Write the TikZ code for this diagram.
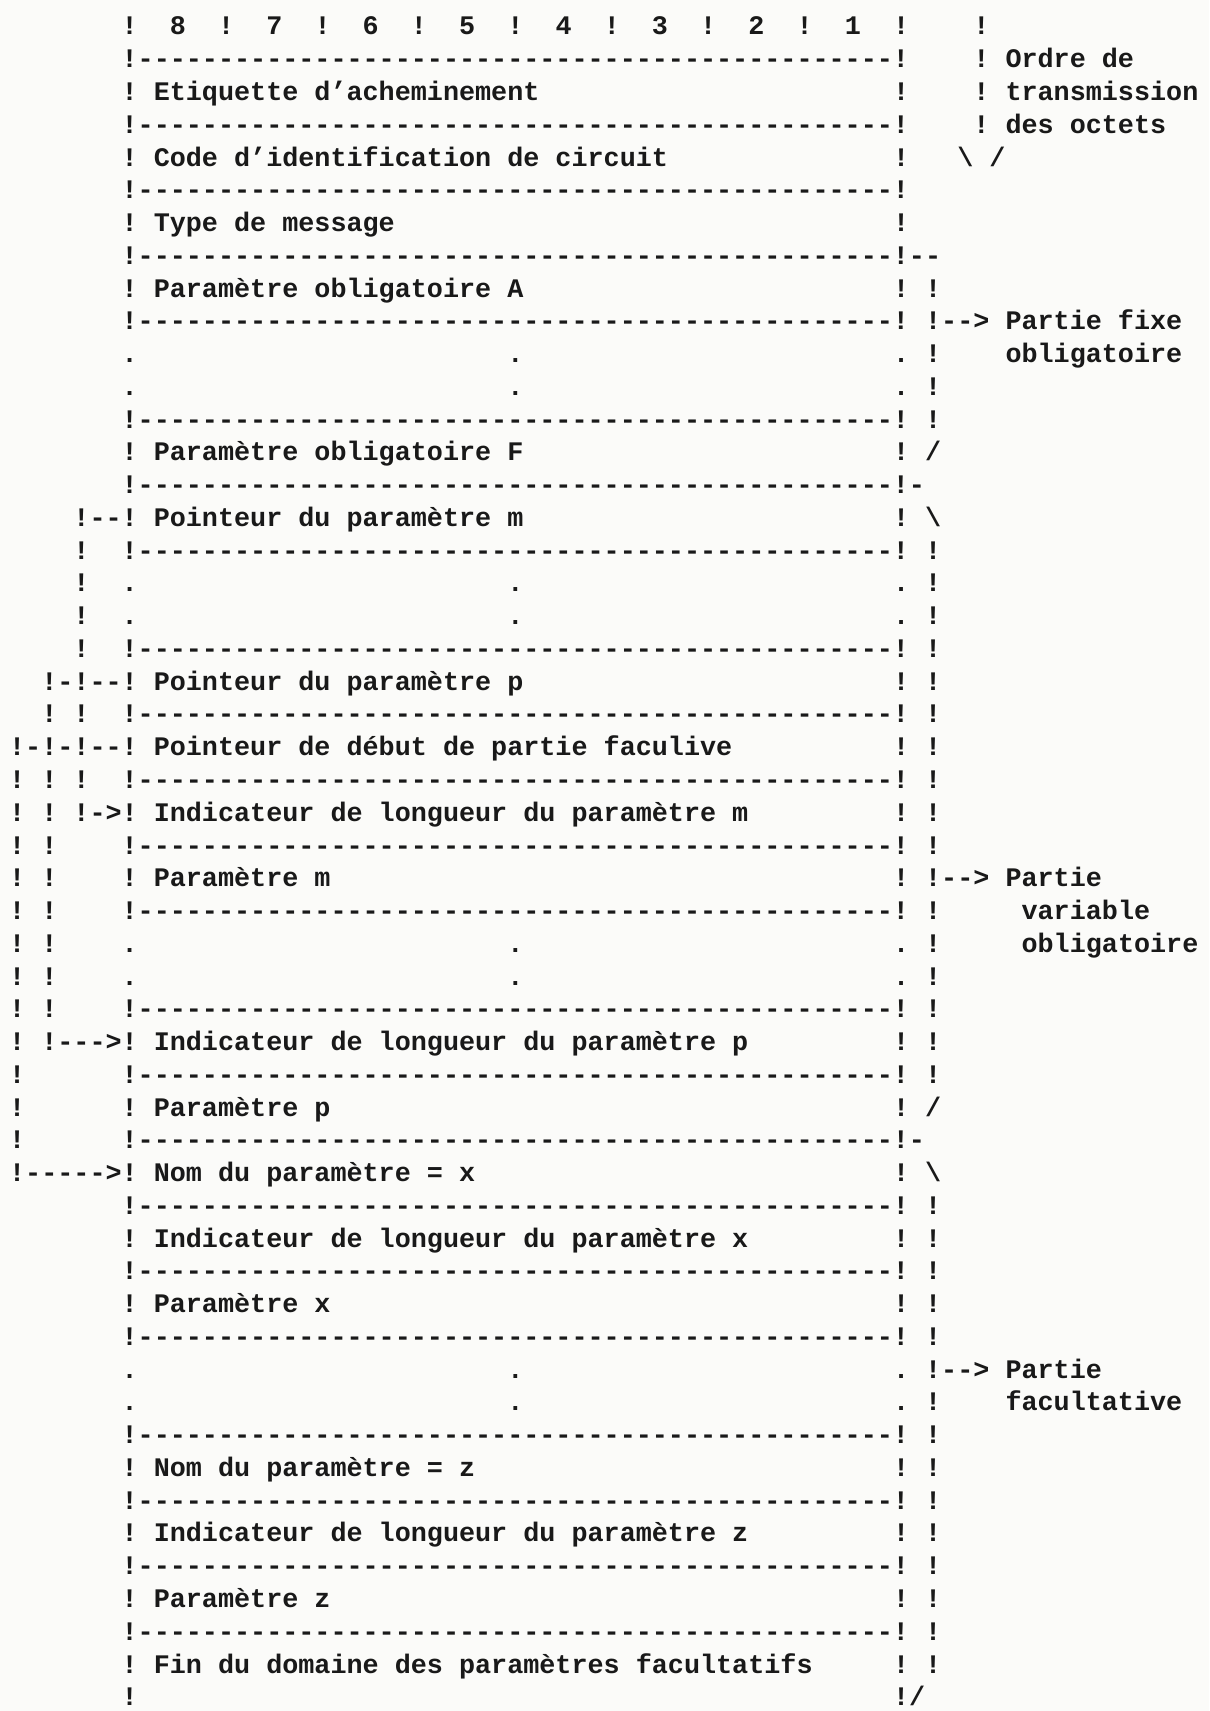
\documentclass[tikz,border=0pt]{standalone}
\usepackage{fontspec}
\setmonofont{Liberation Mono}
\definecolor{paper}{rgb}{0.985,0.985,0.975}
\definecolor{ink}{rgb}{0.1,0.1,0.1}
\tikzset{seg/.style={anchor=base west,inner sep=0pt,outer sep=0pt,text=ink,
  font=\ttfamily\bfseries\fontsize{13.39pt}{16pt}\selectfont}}
% row, column, text
\newcommand\tw[3]{\node[seg] (n#1x#2) at ({9.165+#2*16.07},{35+(#1-1)*32.76}) {#3};}
\def\dsh{----------}
\def\DL{!\dsh\dsh\dsh\dsh-------!}
\begin{document}
\begin{tikzpicture}[x=0.5pt,y=-0.5pt]
\fill[paper] (0,0) rectangle (1209,1711);
\useasboundingbox (0,0) rectangle (1209,1711);
% header
\tw{1}{7}{!}\tw{1}{10}{8}\tw{1}{13}{!}\tw{1}{16}{7}\tw{1}{19}{!}\tw{1}{22}{6}
\tw{1}{25}{!}\tw{1}{28}{5}\tw{1}{31}{!}\tw{1}{34}{4}\tw{1}{37}{!}\tw{1}{40}{3}
\tw{1}{43}{!}\tw{1}{46}{2}\tw{1}{49}{!}\tw{1}{52}{1}\tw{1}{55}{!}\tw{1}{60}{!}
% 2-8
\tw{2}{7}{\DL}\tw{2}{60}{! Ordre de}
\tw{3}{7}{! Etiquette d’acheminement}\tw{3}{55}{!}\tw{3}{60}{! transmission}
\tw{4}{7}{\DL}\tw{4}{60}{! des octets}
\tw{5}{7}{! Code d’identification de circuit}\tw{5}{55}{!}\tw{5}{59}{\textbackslash{} /}
\tw{6}{7}{\DL}
\tw{7}{7}{! Type de message}\tw{7}{55}{!}
\tw{8}{7}{\DL--}
% fixed part
\tw{9}{7}{! Paramètre obligatoire A}\tw{9}{55}{! !}
\tw{10}{7}{\DL}\tw{10}{57}{!--> Partie fixe}
\tw{11}{7}{.}\tw{11}{31}{.}\tw{11}{55}{. !}\tw{11}{62}{obligatoire}
\tw{12}{7}{.}\tw{12}{31}{.}\tw{12}{55}{. !}
\tw{13}{7}{\DL}\tw{13}{57}{!}
\tw{14}{7}{! Paramètre obligatoire F}\tw{14}{55}{! /}
\tw{15}{7}{\DL-}
% variable part
\tw{16}{4}{!--! Pointeur du paramètre m}\tw{16}{55}{! \textbackslash}
\tw{17}{4}{!}\tw{17}{7}{\DL}\tw{17}{57}{!}
\tw{18}{4}{!}\tw{18}{7}{.}\tw{18}{31}{.}\tw{18}{55}{. !}
\tw{19}{4}{!}\tw{19}{7}{.}\tw{19}{31}{.}\tw{19}{55}{. !}
\tw{20}{4}{!}\tw{20}{7}{\DL}\tw{20}{57}{!}
\tw{21}{2}{!-!--! Pointeur du paramètre p}\tw{21}{55}{! !}
\tw{22}{2}{! !}\tw{22}{7}{\DL}\tw{22}{57}{!}
\tw{23}{0}{!-!-!--! Pointeur de début de partie faculive}\tw{23}{55}{! !}
\tw{24}{0}{! ! !}\tw{24}{7}{\DL}\tw{24}{57}{!}
\tw{25}{0}{! ! !->! Indicateur de longueur du paramètre m}\tw{25}{55}{! !}
\tw{26}{0}{! !}\tw{26}{7}{\DL}\tw{26}{57}{!}
\tw{27}{0}{! !}\tw{27}{7}{! Paramètre m}\tw{27}{55}{! !--> Partie}
\tw{28}{0}{! !}\tw{28}{7}{\DL}\tw{28}{57}{!}\tw{28}{63}{variable}
\tw{29}{0}{! !}\tw{29}{7}{.}\tw{29}{31}{.}\tw{29}{55}{. !}\tw{29}{63}{obligatoire}
\tw{30}{0}{! !}\tw{30}{7}{.}\tw{30}{31}{.}\tw{30}{55}{. !}
\tw{31}{0}{! !}\tw{31}{7}{\DL}\tw{31}{57}{!}
\tw{32}{0}{! !--->! Indicateur de longueur du paramètre p}\tw{32}{55}{! !}
\tw{33}{0}{!}\tw{33}{7}{\DL}\tw{33}{57}{!}
\tw{34}{0}{!}\tw{34}{7}{! Paramètre p}\tw{34}{55}{! /}
\tw{35}{0}{!}\tw{35}{7}{\DL-}
% optional part
\tw{36}{0}{!----->! Nom du paramètre = x}\tw{36}{55}{! \textbackslash}
\tw{37}{7}{\DL}\tw{37}{57}{!}
\tw{38}{7}{! Indicateur de longueur du paramètre x}\tw{38}{55}{! !}
\tw{39}{7}{\DL}\tw{39}{57}{!}
\tw{40}{7}{! Paramètre x}\tw{40}{55}{! !}
\tw{41}{7}{\DL}\tw{41}{57}{!}
\tw{42}{7}{.}\tw{42}{31}{.}\tw{42}{55}{. !--> Partie}
\tw{43}{7}{.}\tw{43}{31}{.}\tw{43}{55}{. !}\tw{43}{62}{facultative}
\tw{44}{7}{\DL}\tw{44}{57}{!}
\tw{45}{7}{! Nom du paramètre = z}\tw{45}{55}{! !}
\tw{46}{7}{\DL}\tw{46}{57}{!}
\tw{47}{7}{! Indicateur de longueur du paramètre z}\tw{47}{55}{! !}
\tw{48}{7}{\DL}\tw{48}{57}{!}
\tw{49}{7}{! Paramètre z}\tw{49}{55}{! !}
\tw{50}{7}{\DL}\tw{50}{57}{!}
\tw{51}{7}{! Fin du domaine des paramètres facultatifs}\tw{51}{55}{! !}
\tw{52}{7}{!}\tw{52}{55}{!/}
\end{tikzpicture}
\end{document}
